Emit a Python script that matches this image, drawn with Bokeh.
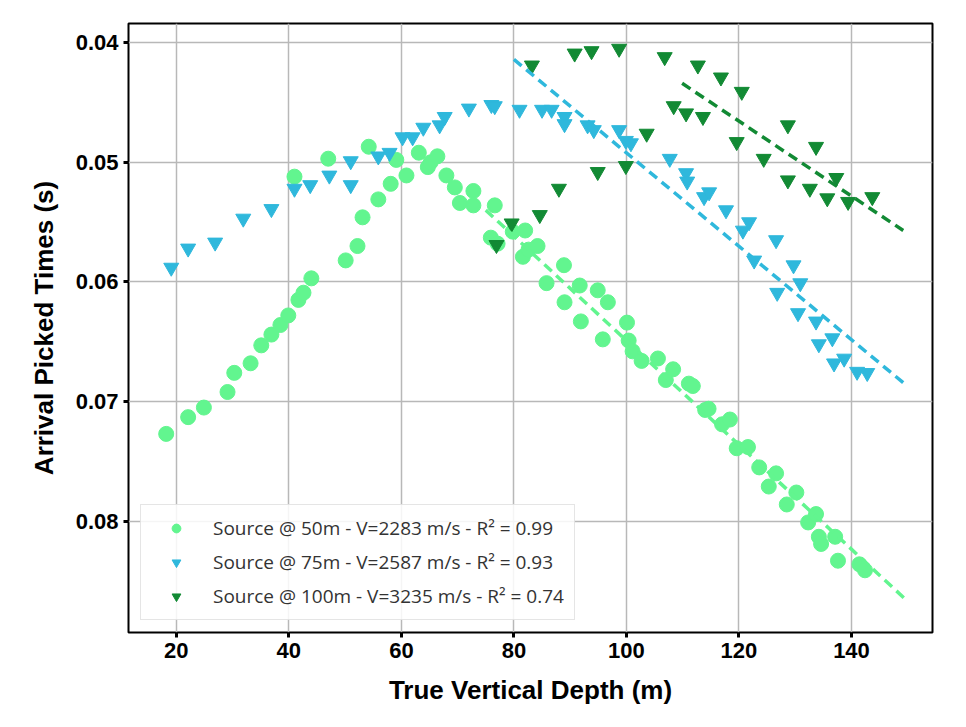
from bokeh.plotting import figure
from bokeh.models import Range1d, FixedTicker, PrintfTickFormatter, Legend, LegendItem
from bokeh.embed import file_html
from bokeh.resources import INLINE

# Source @ 50m
x50 = [18.2,22.1,24.9,29.1,30.3,33.2,35.1,36.9,38.5,39.9,41.7,42.6,44.0,41.0,47.0,50.1,52.2,53.1,54.2,55.9,58.1,59.1,60.9,63.1,64.7,65.2,66.4,68.0,69.5,70.4,72.8,72.8,75.9,76.6,77.1,79.8,82.0,81.6,82.6,84.2,85.8,88.9,89.0,91.9,91.7,94.9,96.7,95.8,100.1,100.4,101.1,102.7,105.6,107.0,108.3,111.1,111.8,114.0,114.6,117.0,118.4,119.6,121.6,123.6,125.3,126.6,128.5,130.2,132.3,133.7,134.2,134.6,137.1,137.6,141.4,142.4]
y50 = [0.0727,0.0713,0.0705,0.0692,0.0676,0.0668,0.0653,0.0644,0.0636,0.0628,0.0615,0.0609,0.0597,0.0512,0.0497,0.0582,0.0570,0.0546,0.0487,0.0531,0.0518,0.0498,0.0511,0.0492,0.0504,0.0500,0.0495,0.0511,0.0521,0.0534,0.0524,0.0536,0.0563,0.0536,0.0568,0.0558,0.0557,0.0579,0.0573,0.0570,0.0601,0.0586,0.0617,0.0633,0.0603,0.0607,0.0617,0.0648,0.0634,0.0649,0.0658,0.0666,0.0664,0.0682,0.0673,0.0685,0.0687,0.0707,0.0706,0.0719,0.0715,0.0739,0.0738,0.0755,0.0771,0.0760,0.0786,0.0776,0.0801,0.0794,0.0813,0.0819,0.0813,0.0833,0.0836,0.0841]
fit50_x = [75.0, 150.0]
fit50_y = [0.0540, 0.0867]

# Source @ 75m
x75 = [19.1,22.1,26.9,31.9,36.9,41.0,43.8,47.2,51.0,51.0,55.9,57.9,60.2,62.0,63.9,66.8,67.7,72.0,76.0,76.6,81.0,85.0,86.7,89.0,89.0,93.1,94.2,98.7,99.9,100.8,107.7,110.6,110.8,113.8,114.7,117.7,120.7,121.8,122.7,126.6,126.8,129.7,130.9,130.5,133.7,134.2,136.6,136.9,138.7,141.0,142.8]
y75 = [0.0588,0.0572,0.0567,0.0547,0.0539,0.0522,0.0519,0.0511,0.0499,0.0519,0.0495,0.0492,0.0479,0.0479,0.0471,0.0469,0.0462,0.0455,0.0452,0.0453,0.0456,0.0456,0.0456,0.0462,0.0468,0.0469,0.0473,0.0473,0.0482,0.0484,0.0497,0.0509,0.0516,0.0529,0.0525,0.0540,0.0557,0.0550,0.0582,0.0565,0.0609,0.0586,0.0601,0.0626,0.0633,0.0652,0.0647,0.0668,0.0664,0.0675,0.0676]
fit75_x = [80.0, 149.4]
fit75_y = [0.0414, 0.0685]

# Source @ 100m
x100 = [83.2,90.8,93.8,98.7,106.8,112.7,116.8,120.5,108.4,110.6,113.6,128.7,103.6,119.6,133.7,124.4,99.9,94.9,128.7,137.3,132.6,135.7,139.4,143.7,88.0,84.6,79.6,76.9]
y100 = [0.0419,0.0409,0.0407,0.0405,0.0412,0.0419,0.0429,0.0441,0.0453,0.0459,0.0462,0.0469,0.0476,0.0483,0.0487,0.0497,0.0503,0.0508,0.0515,0.0513,0.0522,0.0530,0.0533,0.0529,0.0522,0.0544,0.0551,0.0569]
fit100_x = [109.9, 149.2]
fit100_y = [0.0434, 0.0557]

labels = ["Source @ 50m - V=2283 m/s - R² = 0.99",
          "Source @ 75m - V=2587 m/s - R² = 0.93",
          "Source @ 100m - V=3235 m/s - R² = 0.74"]
c50, c75, c100 = "#62f58f", "#2fb8dc", "#128a34"

p = figure(width=950, height=712, output_backend="svg", toolbar_location=None,
           x_range=Range1d(11.5, 154.4), y_range=Range1d(0.0893, 0.0384),
           min_border_left=128, min_border_right=18, min_border_top=23, min_border_bottom=80)

r1 = p.scatter(x50, y50, marker="circle", size=15, color=c50)
r2 = p.scatter(x75, y75, marker="inverted_triangle", size=15, color=c75)
r3 = p.scatter(x100, y100, marker="inverted_triangle", size=15, color=c100)
p.line(fit50_x, fit50_y, color=c50, line_width=3.5, line_dash="10 6")
p.line(fit75_x, fit75_y, color=c75, line_width=3.5, line_dash="10 6")
p.line(fit100_x, fit100_y, color=c100, line_width=3.5, line_dash="10 6")

legend = Legend(items=[LegendItem(label=labels[0], renderers=[r1]),
                       LegendItem(label=labels[1], renderers=[r2]),
                       LegendItem(label=labels[2], renderers=[r3])],
                location=(12, 12), label_text_font="Open Sans", label_text_font_size="19px",
                label_text_color="#333333", border_line_color="#cccccc", border_line_width=1.5,
                background_fill_alpha=0.85, padding=10, spacing=8, glyph_width=50, glyph_height=22,
                label_standoff=12)
p.add_layout(legend, "center")

p.xaxis.ticker = FixedTicker(ticks=[20, 40, 60, 80, 100, 120, 140])
p.yaxis.ticker = FixedTicker(ticks=[0.04, 0.05, 0.06, 0.07, 0.08])
p.yaxis.formatter = PrintfTickFormatter(format="%.2f")
p.xaxis.axis_label = "True Vertical Depth (m)"
p.yaxis.axis_label = "Arrival Picked Times (s)"
for ax in (p.xaxis, p.yaxis):
    ax.axis_label_text_font = "Liberation Sans"
    ax.axis_label_text_font_style = "bold"
    ax.axis_label_text_font_size = "26px"
    ax.axis_label_text_color = "black"
    ax.major_label_text_font = "Liberation Sans"
    ax.major_label_text_font_style = "bold"
    ax.major_label_text_font_size = "22px"
    ax.major_label_text_color = "black"
    ax.minor_tick_line_color = None
    ax.axis_line_color = None
    ax.major_tick_line_color = "black"
    ax.major_tick_line_width = 3
    ax.major_tick_out = 5
    ax.major_tick_in = 0
p.xaxis.axis_label_standoff = 14
p.yaxis.axis_label_standoff = 14
p.grid.grid_line_color = "#b8b8b8"
p.grid.grid_line_width = 1.5
p.outline_line_color = "black"
p.outline_line_width = 2

open("out.html", "w").write(file_html(p, INLINE))
